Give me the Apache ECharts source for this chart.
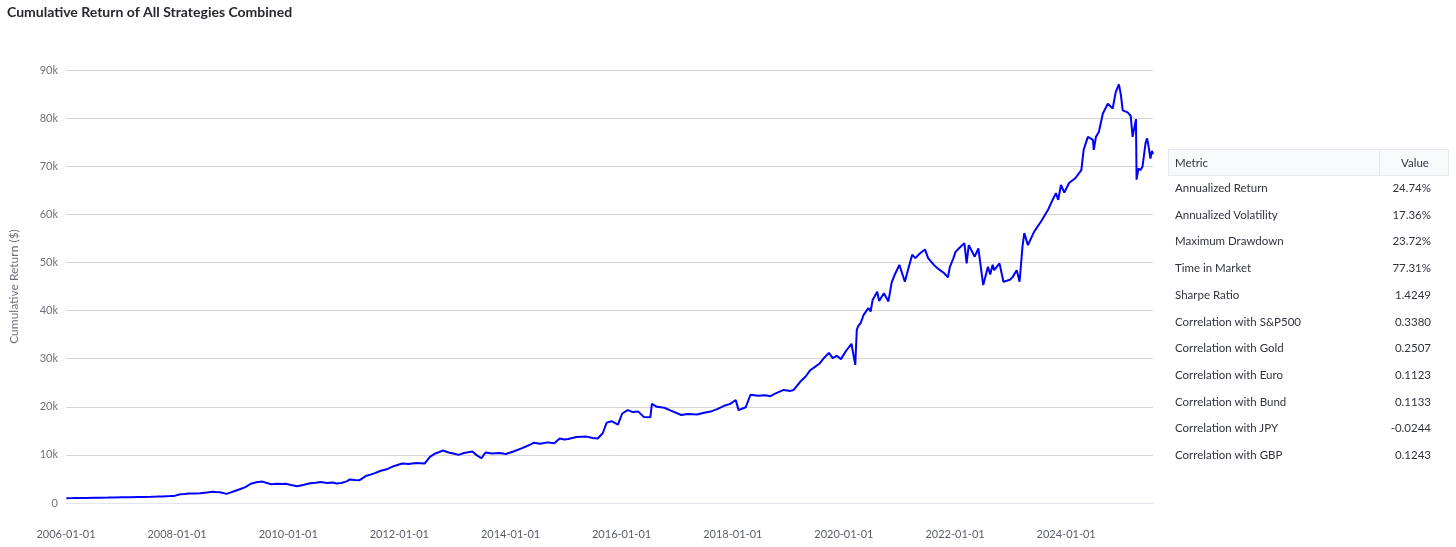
<!DOCTYPE html>
<html>
<head>
<meta charset="utf-8">
<script src="https://cdn.jsdelivr.net/npm/echarts@6/dist/echarts.min.js"></script>
<style>
  html, body { margin: 0; padding: 0; background: #fff; }
  #wrap { position: relative; width: 1456px; height: 547px; overflow: hidden; }
  #chart { position: absolute; left: 0; top: 0; width: 1456px; height: 547px; }
  #tbl { position: absolute; left: 1168px; top: 149px; width: 281px; font-family: Lato, 'Noto Sans', sans-serif; color: #31333F; font-size: 11.5px; }
  .hdr { position: absolute; left: 0; top: 0; width: 281px; height: 27px; background: #f8f9fb; border: 1px solid #e6e9ef; box-sizing: border-box; }
  .hdr .c1 { position: absolute; left: 6px; top: 0; line-height: 25px; }
  .hdr .c2 { position: absolute; left: 210px; width: 70px; top: 0; line-height: 25px; text-align: center; border-left: 1px solid #e6e9ef; height: 25px; }
  .row { position: absolute; left: 0; width: 281px; height: 26.7px; line-height: 26.7px; }
  .row .c1 { position: absolute; left: 7px; }
  .row .c2 { position: absolute; right: 18px; text-align: right; }
</style>
</head>
<body>
<div id="wrap">
  <div id="chart"></div>
  <div id="tbl"></div>
</div>
<script>
const dates = [
'2006-01-03','2006-02-15','2006-04-03','2006-05-15','2006-07-03','2006-08-15','2006-10-02','2006-11-15',
'2007-01-02','2007-02-26','2007-04-16','2007-06-01','2007-07-16','2007-08-20','2007-10-01','2007-11-15','2007-12-14',
'2008-01-22','2008-02-20','2008-03-20','2008-04-25','2008-06-02','2008-07-15','2008-08-20','2008-09-15','2008-10-10','2008-11-20','2008-12-15',
'2009-01-15','2009-02-20','2009-03-25','2009-04-30','2009-06-05','2009-07-15','2009-08-20','2009-09-10','2009-10-20','2009-11-20','2009-12-15',
'2010-01-20','2010-03-01','2010-04-15','2010-05-25','2010-07-01','2010-08-01','2010-09-15','2010-10-20','2010-11-15','2010-12-15',
'2011-01-20','2011-02-10','2011-03-15','2011-04-15','2011-05-25','2011-06-25','2011-07-25','2011-09-01','2011-10-10','2011-11-20','2011-12-20',
'2012-01-20','2012-03-01','2012-04-20','2012-06-15','2012-07-20','2012-08-25','2012-09-20','2012-10-15','2012-11-20','2012-12-20',
'2013-01-25','2013-03-01','2013-04-25','2013-05-25','2013-06-24','2013-07-20','2013-09-01','2013-10-20','2013-12-01',
'2014-01-20','2014-03-18','2014-05-01','2014-06-01','2014-07-15','2014-09-01','2014-10-16','2014-11-20','2014-12-20',
'2015-01-15','2015-03-10','2015-05-15','2015-06-25','2015-07-28','2015-08-30','2015-09-25','2015-10-27','2015-12-08',
'2016-01-05','2016-02-10','2016-03-15','2016-04-20','2016-05-25','2016-07-08','2016-07-18','2016-08-20','2016-10-08','2016-11-20',
'2017-01-27','2017-03-10','2017-05-12','2017-06-20','2017-08-08','2017-09-20','2017-11-05','2017-12-15',
'2018-01-20','2018-02-08','2018-03-27','2018-04-27','2018-06-15','2018-08-01','2018-09-05','2018-10-10','2018-12-01',
'2019-01-15','2019-02-05','2019-03-20','2019-04-25','2019-05-25','2019-06-25','2019-07-26','2019-08-25','2019-09-25','2019-10-20','2019-11-15','2019-12-13',
'2020-01-17','2020-02-20','2020-03-16','2020-03-26','2020-04-05','2020-04-20','2020-05-10','2020-06-10','2020-06-25','2020-07-08','2020-08-07','2020-08-20','2020-09-20','2020-10-20','2020-11-10','2020-12-01','2020-12-31',
'2021-02-05','2021-02-25','2021-03-25','2021-04-15','2021-05-12','2021-06-17','2021-07-08','2021-08-20','2021-09-15','2021-10-20','2021-11-15','2021-11-28','2021-12-20',
'2022-01-04','2022-02-01','2022-03-03','2022-03-18','2022-04-01','2022-05-10','2022-06-03','2022-07-05','2022-08-05','2022-08-20','2022-09-05','2022-09-15','2022-10-20','2022-11-15','2022-12-28',
'2023-01-15','2023-02-10','2023-03-01','2023-03-20','2023-04-01','2023-04-25','2023-06-05','2023-07-20','2023-09-05','2023-10-07','2023-10-26','2023-11-10','2023-11-28','2023-12-20',
'2024-01-20','2024-03-01','2024-04-10','2024-04-25','2024-05-23','2024-06-25','2024-07-01','2024-07-15','2024-08-03','2024-08-29','2024-10-01','2024-11-02','2024-11-22','2024-12-13','2024-12-26',
'2025-01-07','2025-02-08','2025-02-28','2025-03-13','2025-04-04','2025-04-08','2025-04-20','2025-05-04','2025-05-17','2025-06-06','2025-06-16','2025-06-26','2025-07-08','2025-07-18','2025-07-25'
];
const values = [
1000,1020,1050,1060,1090,1110,1130,1160,
1190,1210,1240,1270,1300,1330,1370,1430,1480,
1800,1850,1950,1980,2050,2200,2320,2280,2250,1900,2150,
2500,2900,3300,4000,4300,4450,4100,3900,4000,3950,4000,
3750,3500,3800,4100,4200,4350,4150,4250,4050,4150,
4500,4900,4800,4750,5600,5900,6200,6700,7000,7600,7900,
8200,8100,8300,8200,9600,10300,10600,10900,10500,10300,
10000,10400,10700,9900,9300,10500,10300,10400,10200,
10700,11400,12000,12500,12300,12600,12400,13400,13200,
13300,13700,13800,13500,13400,14500,16700,17000,16300,
18600,19300,18900,19000,17900,17800,20600,20000,19800,19200,
18300,18500,18400,18700,19000,19500,20200,20600,
21400,19300,19900,22500,22300,22400,22200,22800,23500,
23300,23500,25200,26300,27600,28300,29000,30200,31200,30100,30600,29900,
31700,33100,28700,36000,36800,37400,39100,40500,39800,42200,43900,42000,43600,41900,45800,47500,49500,
46000,48400,51600,50900,51800,52700,50900,49300,48600,47800,46900,49100,50800,
52200,53100,54000,49800,53600,51200,52900,45300,49100,47500,49500,48400,49800,46000,46400,
47000,48400,46000,53300,56100,53600,56400,58500,61000,63200,64400,63000,66100,64500,
66500,67500,69200,73400,76100,75500,73400,76100,77100,80900,83000,82000,85400,87000,84800,
81600,81200,80500,76100,79800,67200,69500,69200,69900,74800,75800,74100,71600,73200,72500
];
const xTickLabels = ['2006-01-01','2008-01-01','2010-01-01','2012-01-01','2014-01-01','2016-01-01','2018-01-01','2020-01-01','2022-01-01','2024-01-01'];
const metricNames = ['Annualized Return','Annualized Volatility','Maximum Drawdown','Time in Market','Sharpe Ratio','Correlation with S&P500','Correlation with Gold','Correlation with Euro','Correlation with Bund','Correlation with JPY','Correlation with GBP'];
const metricValues = ['24.74%','17.36%','23.72%','77.31%','1.4249','0.3380','0.2507','0.1123','0.1133','-0.0244','0.1243'];

function pad(n){ return (n<10?'0':'')+n; }
function fmtDate(v){ const d=new Date(v); return d.getFullYear()+'-'+pad(d.getMonth()+1)+'-'+pad(d.getDate()); }
function ts(s){ const p=s.split('-'); return new Date(+p[0], +p[1]-1, +p[2]).getTime(); }

// metrics table
const tbl = document.getElementById('tbl');
let html = '<div class="hdr"><span class="c1">Metric</span><span class="c2">Value</span></div>';
metricNames.forEach((n,i)=>{
  const top = 26 + 26.7*i;
  html += '<div class="row" style="top:'+top+'px"><span class="c1">'+n.replace('&','&amp;')+'</span><span class="c2">'+metricValues[i]+'</span></div>';
});
tbl.innerHTML = html;

const n = Math.min(dates.length, values.length);
const seriesData = [];
for (let i = 0; i < n; i++) seriesData.push([ts(dates[i]), values[i]]);
const FONT = 'Lato, "Noto Sans", sans-serif';
const tickVals = xTickLabels.map(ts);

const chart = echarts.init(document.getElementById('chart'), null, {renderer:'canvas'});
chart.setOption({
  animation: false,
  title: {
    text: 'Cumulative Return of All Strategies Combined',
    left: 2, top: 0,
    textStyle: { fontFamily: FONT, fontSize: 14, fontWeight: 'bold', color: '#262730' }
  },
  grid: { left: 57, right: 303, top: 70, bottom: 44, containLabel: false },
  xAxis: {
    type: 'value',
    min: ts('2006-01-01'),
    max: ts('2025-07-25'),
    axisLine: { show: true, lineStyle: { color: '#e0e6f1' } },
    axisTick: { show: false },
    splitLine: { show: false },
    axisLabel: {
      customValues: tickVals,
      formatter: function(v){ return fmtDate(v); },
      margin: 26,
      fontFamily: FONT, fontSize: 11, color: '#5a5e6b',
      hideOverlap: false
    }
  },
  yAxis: {
    type: 'value',
    min: 0, max: 90000, interval: 10000,
    name: 'Cumulative Return ($)',
    nameLocation: 'middle',
    nameGap: 46,
    nameTextStyle: { fontFamily: FONT, fontSize: 12, color: '#6E7079' },
    axisLine: { show: false },
    axisTick: { show: false },
    splitLine: { lineStyle: { color: '#d6d6d6' } },
    axisLabel: {
      fontFamily: FONT, fontSize: 11, color: '#6E7079', margin: 8,
      formatter: function(v){ return v===0 ? '0' : (v/1000)+'k'; }
    }
  },
  series: [{
    type: 'line',
    data: seriesData,
    showSymbol: false,
    symbol: 'none',
    lineStyle: { color: '#0000ff', width: 2 },
    itemStyle: { color: '#0000ff' }
  }]
});
</script>
</body>
</html>
